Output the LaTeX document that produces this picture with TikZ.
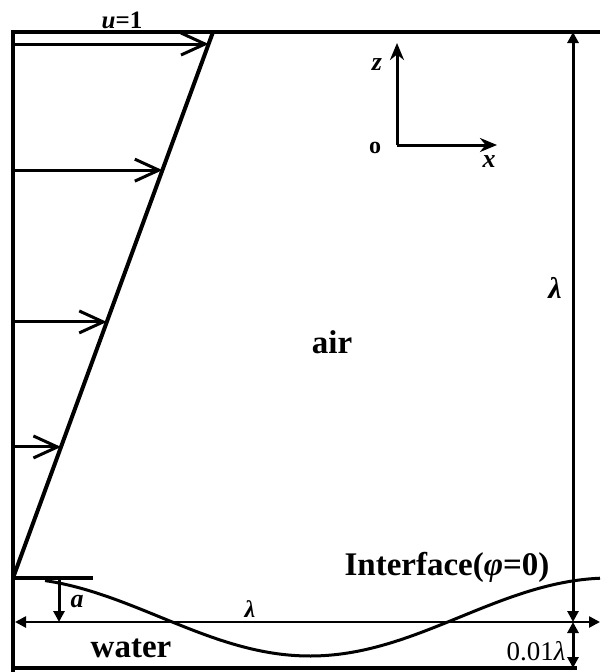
\documentclass[tikz,border=0pt]{standalone}
\usepackage{fontspec}
\setmainfont{Liberation Serif}
\usetikzlibrary{arrows.meta}
\begin{document}
\begin{tikzpicture}[x=1pt,y=-1pt,
  frame/.style={line width=4.5pt},
  profile/.style={line width=4pt},
  vel/.style={line width=3pt,-{Straight Barb[length=24pt,width=22pt,line width=3pt]}},
  axis/.style={line width=3pt,-{Stealth[length=17pt,width=14pt]}},
  dim/.style={line width=3pt,{Triangle[length=11pt,width=11pt]}-{Triangle[length=11pt,width=11pt]}},
  dimone/.style={line width=3pt,-{Triangle[length=11pt,width=11pt]}},
  wave/.style={line width=3pt},
  lbl/.style={inner sep=0pt,anchor=base},
  bigb/.style={lbl,font=\fontsize{33}{33}\selectfont\bfseries},
  ital/.style={lbl,font=\fontsize{26}{26}\selectfont\bfseries\itshape}]
\useasboundingbox (0,0) rectangle (600,672);
% frame
\coordinate (TL) at (13,32);
\coordinate (TR) at (600,32);
\coordinate (BL) at (13,672);
\draw[frame] (TR) -- (TL) -- (BL);
% velocity profile
\coordinate (P0) at (13,578);
\coordinate (P1) at (213,32);
\draw[profile] (P0) -- (P1);
\path (P0) -- (P1)
  coordinate[pos=0.978] (v1e)
  coordinate[pos=0.747] (v2e)
  coordinate[pos=0.469] (v3e)
  coordinate[pos=0.240] (v4e);
\foreach \i in {1,2,3,4}{
  \coordinate (v\i s) at (P0 |- v\i e);
  \draw[vel] (v\i s) -- (v\i e);
}
\node[lbl,font=\fontsize{25}{25}\selectfont\bfseries] (ulab) at (122,28) {\textit{u}=1};
% axes
\coordinate (O) at (397,145);
\coordinate (Zt) at (397,43);
\coordinate (Xt) at (497,145);
\draw[axis] (O) -- (Zt);
\draw[axis] (O) -- (Xt);
\node[ital] (zlab) at (377,70) {z};
\node[lbl,font=\fontsize{24}{24}\selectfont\bfseries] (olab) at (375,153) {o};
\node[ital] (xlab) at (489,167) {x};
% labels
\node[bigb] (air) at (332,353) {air};
\node[bigb] (intf) at (447,575) {Interface(\textit{φ}=0)};
\node[bigb] (water) at (131,657) {water};
% crest line and wave
\coordinate (c0) at (13,578);
\coordinate (c1) at (93,578);
\draw[profile] (c0) -- (c1);
\draw[wave] plot[domain=45:600,samples=120] (\x,{617-39*cos(0.6*(\x-10))});
% amplitude a
\coordinate (a0) at (59,580);
\coordinate (a1) at (59,622);
\draw[dimone] (a0) -- (a1);
\node[ital] (alab) at (77,607) {a};
% wavelength
\coordinate (w0) at (15,622);
\coordinate (w1) at (600,622);
\draw[line width=2.5pt,{Triangle[length=11pt,width=11pt]}-{Triangle[length=11pt,width=11pt]}] (w0) -- (w1);
\node[lbl,font=\fontsize{24}{24}\selectfont\bfseries\itshape] (wlab) at (250,617) {λ};
% bottom line
\coordinate (b0) at (13,668);
\coordinate (b1) at (577,668);
\draw[line width=3.5pt] (b0) -- (b1);
% right dimension
\coordinate (r0) at (573,32);
\coordinate (r1) at (573,622);
\coordinate (r2) at (573,668);
\draw[dim] (r0) -- (r1);
\draw[dim] (r1) -- (r2);
\node[lbl,font=\fontsize{30}{30}\selectfont\bfseries\itshape] (hlab) at (555,298) {λ};
\node[lbl,font=\fontsize{27}{27}\selectfont] (dlab) at (536,660) {0.01\textit{λ}};
\end{tikzpicture}
\end{document}
